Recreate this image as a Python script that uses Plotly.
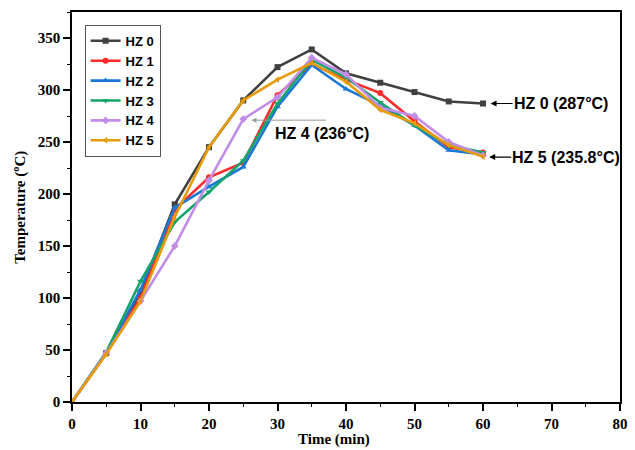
import plotly.graph_objects as go

time_min = [0, 5, 10, 15, 20, 25, 30, 35, 40, 45, 50, 55, 60]
series_names = ["HZ 0", "HZ 1", "HZ 2", "HZ 3", "HZ 4", "HZ 5"]
hz0 = [0, 47, 105, 190, 245, 290, 322, 339, 316, 307, 298, 289, 287]
hz1 = [0, 47, 100, 185, 216, 230, 295, 325, 310, 297, 270, 245, 240]
hz2 = [0, 47, 108, 187, 207, 226, 284, 324, 301, 285, 266, 242, 238]
hz3 = [0, 48, 116, 173, 202, 232, 287, 329, 312, 288, 266, 247, 240]
hz4 = [0, 47, 97, 150, 213, 272, 293, 331, 315, 283, 275, 250, 237]
hz5 = [0, 46, 97, 178, 245, 290, 310, 326, 308, 281, 268, 247, 236]
series_values = [hz0, hz1, hz2, hz3, hz4, hz5]

colors = ["#404040", "#FF2A2A", "#1A78D6", "#16A46A", "#C28DE6", "#E59B0A"]
symbols = ["square", "circle", "triangle-up", "triangle-down", "diamond", "triangle-left"]

fig = go.Figure()
for name, vals, c, s in zip(series_names, series_values, colors, symbols):
    fig.add_trace(go.Scatter(
        x=time_min, y=vals, name=name, mode="lines+markers",
        line=dict(color=c, width=2.6),
        marker=dict(symbol=s, size=6, color=c),
    ))

ann_font = dict(family="Liberation Sans", size=16, color="black")
fig.add_annotation(x=61.1, y=287, ax=22, ay=0, xref="x", yref="y",
                   text="<b>HZ 0 (287°C)</b>", showarrow=True, arrowhead=2, arrowsize=1,
                   arrowwidth=1.2, arrowcolor="black", xanchor="left", font=ann_font,
                   borderpad=0)
fig.add_annotation(x=60.9, y=235.5, ax=22, ay=0, xref="x", yref="y",
                   text="<b>HZ 5 (235.8°C)</b>", showarrow=True, arrowhead=2, arrowsize=1,
                   arrowwidth=1.2, arrowcolor="black", xanchor="left", font=ann_font,
                   borderpad=0)
fig.add_annotation(x=26.2, y=271, ax=37.3, ay=271, xref="x", yref="y", axref="x", ayref="y",
                   text="", showarrow=True, arrowhead=2, arrowsize=1, arrowwidth=1,
                   arrowcolor="#999999")
fig.add_annotation(x=29.3, y=258, xref="x", yref="y", text="<b>HZ 4 (236°C)</b>",
                   showarrow=False, xanchor="left", font=ann_font)

title_font = dict(family="Liberation Serif", size=15, color="black")
fig.add_annotation(x=0.478, y=-0.097, xref="paper", yref="paper", text="<b>Time (min)</b>",
                   showarrow=False, xanchor="center", yanchor="middle", font=title_font)
fig.add_annotation(x=-0.097, y=0.5, xref="paper", yref="paper",
                   text="<b>Temperature (<sup>o</sup>C)</b>", textangle=-90,
                   showarrow=False, xanchor="center", yanchor="middle", font=title_font)

axis_common = dict(
    showline=True, linecolor="black", linewidth=1.5, mirror=True,
    ticks="outside", ticklen=7, tickwidth=1.5, tickcolor="black",
    showgrid=False, zeroline=False,
    tickfont=dict(family="Liberation Serif", size=15, color="black", weight="bold"),
    minor=dict(ticks="outside", ticklen=3.5, tickwidth=1.2, tickcolor="black", showgrid=False),
)

fig.update_layout(
    width=635, height=450,
    margin=dict(l=72, r=7, t=12, b=48),
    plot_bgcolor="white", paper_bgcolor="white",
    xaxis=dict(range=[0, 80], dtick=10, minor_dtick=5, **axis_common),
    yaxis=dict(range=[0, 375], dtick=50, minor_dtick=25, **axis_common),
    legend=dict(x=0.023, y=0.967, xanchor="left", yanchor="top",
                bordercolor="#555555", borderwidth=1, bgcolor="white",
                font=dict(family="Liberation Sans", size=13, color="black", weight="bold"),
                tracegroupgap=0, itemwidth=30),
    showlegend=True,
)

fig.write_html("out.html")
